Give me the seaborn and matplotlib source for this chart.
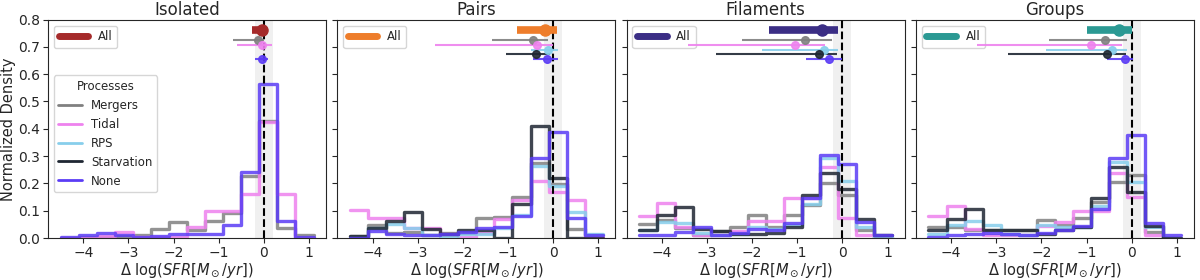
import numpy as np
import matplotlib.pyplot as plt
import seaborn as sns
from matplotlib.lines import Line2D

# bin edges of the SFR-offset histograms
bin_edges = [-4.5, -4.1, -3.7, -3.3, -2.9, -2.5, -2.1, -1.7, -1.3, -0.9, -0.5, -0.1, 0.3, 0.7, 1.1]
bin_centers = [(a + b) / 2 for a, b in zip(bin_edges[:-1], bin_edges[1:])]

envs = ['Isolated', 'Pairs', 'Filaments', 'Groups']
processes = ['Mergers', 'Tidal', 'RPS', 'Starvation', 'None']
proc_colors = ['#808080', '#ee82ee', '#87ceeb', '#1e2632', '#5b3cf5']
all_colors = ['#a52a2a', '#ee7d2b', '#3b2e85', '#2b9993']

# normalized histogram heights per bin (None = process not present)
iso_mergers = [0.0, 0.003, 0.005, 0.007, 0.011, 0.032, 0.06, 0.029, 0.062, 0.09, 0.228, 0.43, 0.037, 0.011]
iso_tidal = [0.0, 0.0, 0.009, 0.023, 0.005, 0.002, 0.002, 0.042, 0.099, 0.099, 0.16, 0.424, 0.16, 0.0]
iso_rps = None
iso_starv = None
iso_none = [0.002, 0.012, 0.02, 0.011, 0.005, 0.007, 0.013, 0.013, 0.013, 0.047, 0.24, 0.565, 0.062, 0.005]

pairs_mergers = [0.008, 0.048, 0.02, 0.023, 0.011, 0.02, 0.02, 0.075, 0.078, 0.149, 0.274, 0.197, 0.033, 0.01]
pairs_tidal = [0.103, 0.072, 0.072, 0.038, 0.035, 0.015, 0.005, 0.02, 0.068, 0.14, 0.207, 0.17, 0.14, 0.005]
pairs_rps = [0.005, 0.035, 0.05, 0.035, 0.011, 0.007, 0.015, 0.015, 0.035, 0.085, 0.265, 0.189, 0.094, 0.015]
pairs_starv = [0.008, 0.035, 0.063, 0.096, 0.032, 0.016, 0.031, 0.03, 0.0, 0.126, 0.41, 0.22, 0.0, 0.0]
pairs_none = [0.0, 0.027, 0.015, 0.011, 0.011, 0.015, 0.023, 0.038, 0.042, 0.08, 0.292, 0.387, 0.072, 0.011]

fil_mergers = [0.05, 0.065, 0.036, 0.011, 0.025, 0.04, 0.083, 0.04, 0.085, 0.12, 0.2, 0.157, 0.028, 0.005]
fil_tidal = [0.08, 0.13, 0.04, 0.011, 0.011, 0.025, 0.064, 0.064, 0.146, 0.146, 0.26, 0.075, 0.01, 0.0]
fil_rps = [0.03, 0.06, 0.054, 0.017, 0.011, 0.015, 0.04, 0.032, 0.048, 0.123, 0.292, 0.207, 0.042, 0.005]
fil_starv = [0.03, 0.084, 0.113, 0.032, 0.027, 0.015, 0.015, 0.02, 0.042, 0.158, 0.237, 0.179, 0.068, 0.011]
fil_none = [0.01, 0.011, 0.023, 0.04, 0.011, 0.02, 0.032, 0.03, 0.054, 0.146, 0.305, 0.272, 0.06, 0.011]

grp_mergers = [0.04, 0.04, 0.028, 0.028, 0.03, 0.03, 0.065, 0.047, 0.075, 0.132, 0.206, 0.23, 0.022, 0.0]
grp_tidal = [0.08, 0.118, 0.034, 0.01, 0.01, 0.01, 0.045, 0.059, 0.098, 0.098, 0.237, 0.151, 0.012, 0.0]
grp_rps = [0.016, 0.047, 0.062, 0.047, 0.016, 0.01, 0.047, 0.04, 0.04, 0.116, 0.277, 0.206, 0.04, 0.0]
grp_starv = [0.028, 0.071, 0.108, 0.031, 0.028, 0.03, 0.016, 0.028, 0.04, 0.147, 0.259, 0.167, 0.044, 0.0]
grp_none = [0.004, 0.01, 0.016, 0.02, 0.016, 0.012, 0.018, 0.028, 0.044, 0.105, 0.294, 0.379, 0.056, 0.01]

hists = [
    [iso_mergers, iso_tidal, iso_rps, iso_starv, iso_none],
    [pairs_mergers, pairs_tidal, pairs_rps, pairs_starv, pairs_none],
    [fil_mergers, fil_tidal, fil_rps, fil_starv, fil_none],
    [grp_mergers, grp_tidal, grp_rps, grp_starv, grp_none],
]

# medians and ranges (median, low, high) of the whole sample
all_stats = [(-0.04, -0.27, 0.07), (-0.18, -0.8, 0.08), (-0.45, -1.62, -0.1), (-0.29, -1.0, 0.0)]

# medians and ranges per process (Mergers, Tidal, RPS, Starvation, None)
iso_stats = [(-0.12, -0.69, 0.0), (-0.05, -0.59, 0.18), None, None, (-0.04, -0.2, 0.1)]
pairs_stats = [(-0.45, -1.35, -0.11), (-0.36, -2.62, 0.0), (-0.11, -0.49, 0.11), (-0.39, -1.05, -0.07), (-0.14, -0.44, 0.1)]
fil_stats = [(-0.82, -2.23, -0.22), (-1.06, -3.42, -0.39), (-0.41, -1.78, -0.1), (-0.52, -2.8, -0.12), (-0.3, -0.8, 0.0)]
grp_stats = [(-0.59, -1.83, -0.1), (-0.89, -3.42, -0.22), (-0.44, -1.9, -0.11), (-0.55, -2.73, -0.13), (-0.14, -0.54, 0.02)]
proc_stats = [iso_stats, pairs_stats, fil_stats, grp_stats]

y_all = 0.762
y_proc = [0.724, 0.707, 0.69, 0.674, 0.657]

sns.set_style('ticks')
fig, axes = plt.subplots(1, 4, figsize=(12, 2.8), sharey=True)
fig.subplots_adjust(left=0.04, right=0.995, top=0.93, bottom=0.15, wspace=0.04)

for i, ax in enumerate(axes):
    ax.axvspan(-0.2, 0.2, color='#e6e6e6', alpha=0.6, lw=0, zorder=0)

    for vals, c in zip(hists[i], proc_colors):
        if vals is None:
            continue
        sns.histplot(x=bin_centers, weights=vals, bins=bin_edges, element='step', fill=False,
                     color=c, lw=2.4, alpha=0.85, ax=ax)

    ax.axvline(0, color='k', ls='--', lw=1.5, zorder=5)

    med, lo, hi = all_stats[i]
    ax.errorbar([med], [y_all], xerr=[[med - lo], [hi - med]], fmt='o', color=all_colors[i],
                lw=5.5, ms=8, zorder=6)
    for st, y, c in zip(proc_stats[i], y_proc, proc_colors):
        if st is None:
            continue
        med, lo, hi = st
        ax.errorbar([med], [y], xerr=[[med - lo], [hi - med]], fmt='o', color=c,
                    lw=1.5, ms=5.5, alpha=0.9, zorder=6)

    ax.set_xlim(-4.78, 1.38)
    ax.set_ylim(0, 0.8)
    ax.set_xticks([-4, -3, -2, -1, 0, 1])
    ax.set_yticks(np.arange(0, 0.81, 0.1))
    ax.set_title(envs[i], fontsize=12, pad=3)
    ax.set_xlabel(r'$\Delta$ log($SFR[M_\odot/yr]$)', fontsize=10.5, labelpad=1)
    ax.set_ylabel('Normalized Density' if i == 0 else '', fontsize=10.5, labelpad=2)
    ax.tick_params(labelsize=10, pad=2)

    leg_all = ax.legend([Line2D([], [], color=all_colors[i], lw=5)], ['All'], loc='upper left',
                        fontsize=8.5, handlelength=2.5)
    if i == 0:
        ax.add_artist(leg_all)
        handles = [Line2D([], [], color=c, lw=2) for c in proc_colors]
        ax.legend(handles, processes, title='Processes', loc='upper left', bbox_to_anchor=(0.02, 0.745),
                  borderaxespad=0, fontsize=8.5, title_fontsize=8.5)

plt.savefig('out.png', dpi=100)
